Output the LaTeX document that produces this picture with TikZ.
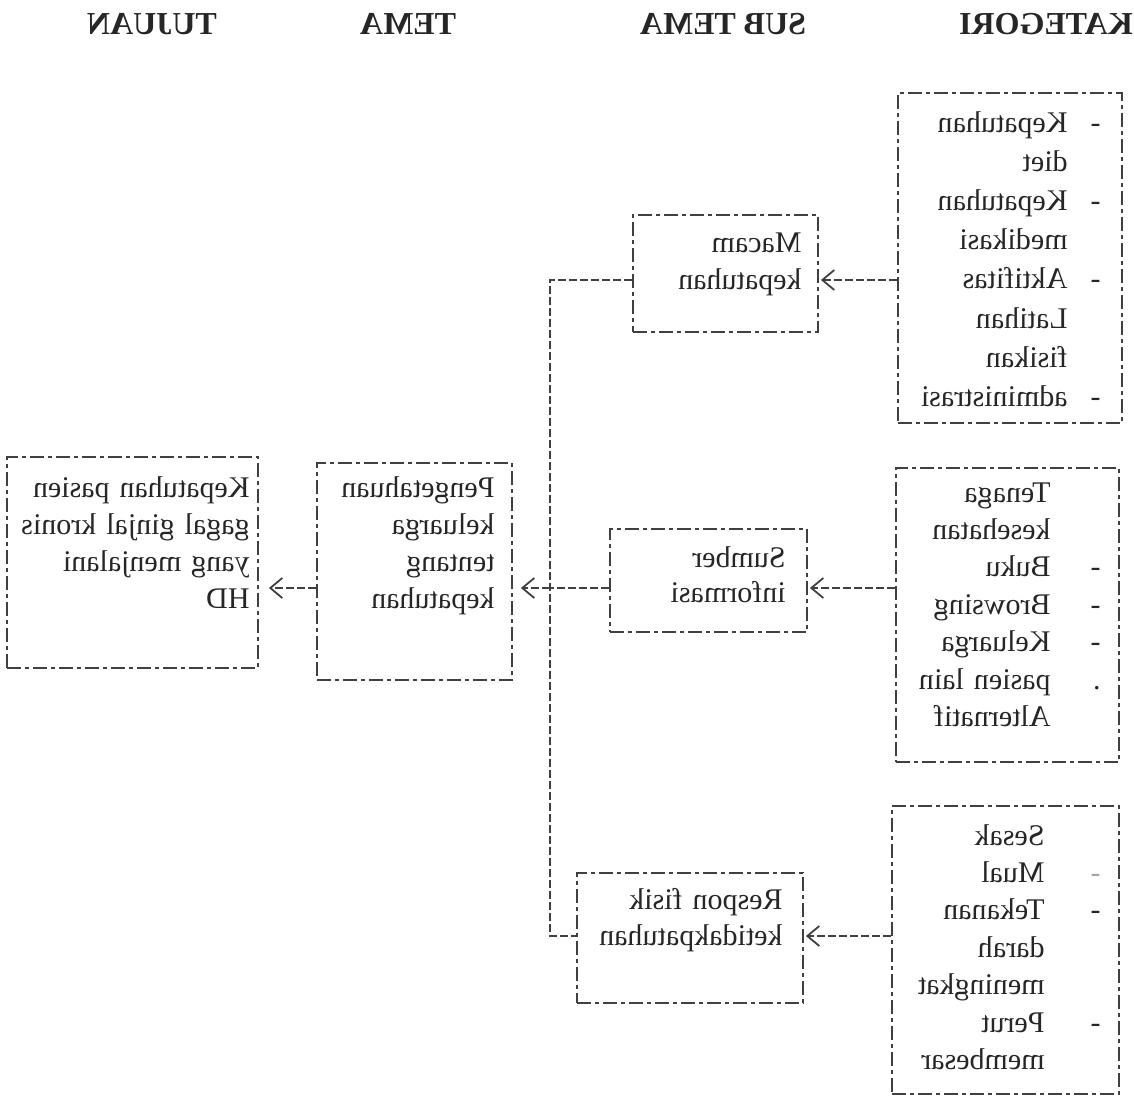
\documentclass[tikz,border=0pt]{standalone}
\usepackage{fontspec}
\setmainfont{Liberation Serif}
\usetikzlibrary{arrows.meta,fit}
\newcommand\bodytxt[1]{\fontsize{15}{#1}\selectfont}
\newcommand\headtxt{\fontsize{16}{19}\selectfont\bfseries}
\newcommand\bul[2]{\makebox[#1][l]{#2}}
\begin{document}
\begin{tikzpicture}[x=0.5pt,y=-0.5pt,
  frame/.style={draw=black!75, line width=0.9pt, dash pattern=on 7pt off 2pt on 2pt off 2pt, inner sep=0pt},
  link/.style={draw=black!75, line width=0.9pt, dash pattern=on 4pt off 1.5pt},
  tip/.style={-{Straight Barb[length=6pt,width=10pt]}},
  mir/.style={xscale=-1, inner sep=0pt, anchor=base west, align=left, text width=150pt, font=\bodytxt{#1}, text=black!85},
  head/.style={xscale=-1, inner sep=0pt, font=\headtxt, text=black!85}]
\useasboundingbox (0,0) rectangle (1134,1103);

% column headings
\node[head] (hTujuan) at (152,24) {TUJUAN};
\node[head] (hTema) at (408,24) {TEMA};
\node[head] (hSub) at (723,24) {SUB TEMA};
\node[head] (hKat) at (1046,24) {KATEGORI};

% boxes
\node[frame, fit={(7,457) (258,668)}] (tujuan) {};
\node[frame, fit={(317,463) (512,680)}] (tema) {};
\node[frame, fit={(633,215) (818,332)}] (macam) {};
\node[frame, fit={(610,529) (807,632)}] (sumber) {};
\node[frame, fit={(577,873) (803,1003)}] (respon) {};
\node[frame, fit={(898,93) (1122,423)}] (k1) {};
\node[frame, fit={(896,468) (1119,762)}] (k2) {};
\node[frame, fit={(892,806) (1119,1094)}] (k3) {};

% box texts
\node[mir={18.5pt}] (tujuanTxt) at (250,497) {Kepatuhan pasien\\gagal ginjal kronis\\yang menjalani\\HD};
\node[mir={18.5pt}] (temaTxt) at (495,497) {Pengetahuan\\keluarga\\tentang\\kepatuhan};
\node[mir={18.5pt}] (macamTxt) at (802,252) {Macam\\kepatuhan};
\node[mir={17.5pt}] (sumberTxt) at (786,567) {Sumber\\informasi};
\node[mir={18pt}] (responTxt) at (783,909) {Respon fisik\\ketidakpatuhan};

\node[mir={19.6pt}] (k1Txt) at (1101,132) {%
\bul{16.5pt}{-}Kepatuhan\\\bul{16.5pt}{}diet\\
\bul{16.5pt}{-}Kepatuhan\\\bul{16.5pt}{}medikasi\\
\bul{16.5pt}{-}Aktifitas\\\bul{16.5pt}{}Latihan\\
\bul{16.5pt}{}fisikan\\\bul{16.5pt}{-}administrasi};

\node[mir={18.7pt}] (k2Txt) at (1101,502) {%
\bul{25pt}{}Tenaga\\\bul{25pt}{}kesehatan\\
\bul{25pt}{-}Buku\\\bul{25pt}{-}Browsing\\
\bul{25pt}{-}Keluarga\\\bul{25pt}{.}pasien lain\\
\bul{25pt}{}Alternatif};

\node[mir={18.7pt}] (k3Txt) at (1101,845) {%
\bul{28pt}{}Sesak\\\bul{28pt}{\textcolor{black!35}{-}}Mual\\
\bul{28pt}{-}Tekanan\\\bul{28pt}{}darah\\
\bul{28pt}{}meningkat\\\bul{28pt}{-}Perut\\
\bul{28pt}{}membesar};

% junctions of the tree
\coordinate (jtop) at (550,280);
\coordinate (jmid) at (550,588);
\coordinate (jbot) at (550,936);

% connectors
\draw[link] (macam.west |- jtop) -- (jtop) -- (jbot) -- (respon.west |- jbot);
\draw[link] (sumber.west |- jmid) -- (jmid);
\draw[link,tip,shorten >=4pt] (jmid) -- (tema.east |- jmid);
\draw[link,tip,shorten >=5pt] (tema.west |- jmid) -- (tujuan.east |- jmid);
\draw[link,tip,shorten >=1pt] (k1.west |- jtop) -- (macam.east |- jtop);
\draw[link,tip,shorten >=1pt] (k2.west |- jmid) -- (sumber.east |- jmid);
\draw[link,tip,shorten >=1pt] (k3.west |- jbot) -- (respon.east |- jbot);
\end{tikzpicture}
\end{document}
